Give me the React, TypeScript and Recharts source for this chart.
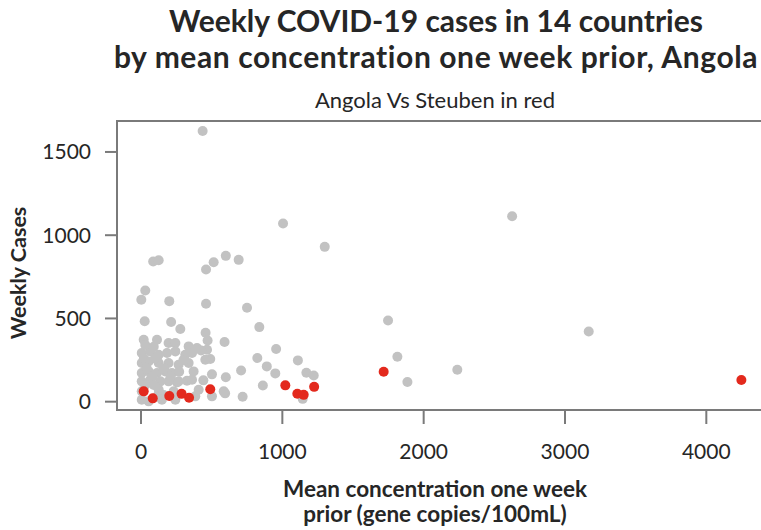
import { ScatterChart, Scatter, XAxis, YAxis, ReferenceArea } from "recharts";

// gray: all counties, red: Steuben
const grayX = [
  436, 1005, 1300, 2626, 3168, 1748, 1814, 1885, 2238,
  86, 125, 460, 514, 600, 691,
  30, 2, 200, 460, 750,
  26, 213, 278, 837, 457, 471, 591, 956, 823, 890, 1110, 490, 708, 950, 1170, 1222, 502, 600, 862, 595, 719, 1144, 441, 325, 255,
  19, 113, 195, 243, 337, 396, 467, 425,
  5, 66, 125, 184, 243, 313, 361,
  5, 54, 125, 195, 266, 337, 455,
  5, 54, 113, 172, 219, 372,
  5, 66, 137, 195, 266, 361,
  5, 125, 231, 408,
  5, 54, 148, 243, 384, 502, 585,
  30, 90, 20, 100, 40, 80, 160, 30, 90, 210, 270, 300, 160, 110,
];
const grayY = [
  1626, 1070, 930, 1114, 422, 488, 270, 118, 192,
  842, 850, 794, 838, 876, 852,
  668, 612, 604, 588, 564,
  483, 479, 437, 448, 414, 368, 358, 316, 262, 212, 248, 256, 187, 170, 174, 157, 164, 147, 97, 50, 30, 17, 128, 126, 116,
  372, 372, 352, 352, 332, 322, 312, 308,
  292, 302, 282, 292, 302, 282, 292,
  232, 242, 232, 232, 222, 232, 252,
  172, 182, 172, 182, 172, 182,
  122, 132, 122, 122, 122, 132,
  62, 72, 62, 72,
  12, 2, 12, 12, 32, 32, 62,
  340, 330, 260, 260, 200, 150, 200, 100, 100, 150, 180, 250, 40, 30,
];
const redX = [19, 83, 200, 287, 340, 490, 1021, 1106, 1151, 1225, 1717, 4248];
const redY = [62, 20, 34, 47, 24, 75, 98, 48, 41, 89, 180, 130];

const xTicks = [0, 1000, 2000, 3000, 4000];
const yTicks = [0, 500, 1000, 1500];

const gray = grayX.map((x, i) => ({ x, y: grayY[i] }));
const red = redX.map((x, i) => ({ x, y: redY[i] }));

const FONT = "Lato, 'Open Sans', sans-serif";
const AXIS = "#7a7a7a";
const TXT = "#262626";

const dot = (color: string) => (p: any) => (
  <circle cx={p.cx} cy={p.cy} r={5} fill={color} />
);

export default function App() {
  return (
    <div
      style={{
        position: "fixed",
        left: 0,
        top: 0,
        width: 761,
        height: 530,
        overflow: "hidden",
        background: "#fff",
        fontFamily: FONT,
        color: TXT,
      }}
    >
      <div
        style={{
          position: "absolute",
          left: 110,
          width: 652,
          top: 2,
          textAlign: "center",
          fontSize: 30,
          fontWeight: 700,
          lineHeight: "36px",
          whiteSpace: "nowrap",
        }}
      >
        Weekly COVID-19 cases in 14 countries
        <br />
        <span style={{ letterSpacing: 0.6 }}>
          by mean concentration one week prior, Angola
        </span>
      </div>
      <div
        style={{
          position: "absolute",
          left: 110,
          width: 650,
          top: 86,
          textAlign: "center",
          fontSize: 22,
        }}
      >
        Angola Vs Steuben in red
      </div>
      <div
        style={{
          position: "absolute",
          left: 110,
          width: 650,
          top: 476,
          textAlign: "center",
          fontSize: 22.5,
          fontWeight: 700,
          lineHeight: "25px",
        }}
      >
        Mean concentration one week
        <br />
        prior (gene copies/100mL)
      </div>
      <div
        style={{
          position: "absolute",
          left: 18,
          top: 273,
          transform: "translate(-50%, -50%) rotate(-90deg)",
          whiteSpace: "nowrap",
          fontSize: 21.5,
          fontWeight: 700,
        }}
      >
        Weekly Cases
      </div>
      <div style={{ position: "absolute", left: 0, top: 0 }}>
        <ScatterChart
          width={801}
          height={530}
          margin={{ top: 121, right: 0, bottom: 80, left: 0 }}
        >
          <XAxis
            type="number"
            dataKey="x"
            domain={[-170, 4670]}
            ticks={xTicks}
            allowDataOverflow
            height={40}
            tickSize={14}
            tickMargin={20}
            axisLine={{ stroke: AXIS, strokeWidth: 2 }}
            tickLine={{ stroke: AXIS, strokeWidth: 2 }}
            tick={{ fill: TXT, fontSize: 21, fontFamily: FONT }}
          />
          <YAxis
            type="number"
            dataKey="y"
            domain={[-50, 1686]}
            ticks={yTicks}
            allowDataOverflow
            width={117}
            tickSize={12}
            tickMargin={14}
            axisLine={{ stroke: AXIS, strokeWidth: 2 }}
            tickLine={{ stroke: AXIS, strokeWidth: 2 }}
            tick={{ fill: TXT, fontSize: 21, fontFamily: FONT }}
          />
          <ReferenceArea
            x1={-170}
            x2={4670}
            y1={-50}
            y2={1686}
            fill="none"
            stroke={AXIS}
            strokeWidth={2}
            ifOverflow="visible"
          />
          <Scatter
            data={gray}
            shape={dot("#c2c2c2")}
            isAnimationActive={false}
          />
          <Scatter
            data={red}
            shape={dot("#e3291d")}
            isAnimationActive={false}
          />
        </ScatterChart>
      </div>
    </div>
  );
}
